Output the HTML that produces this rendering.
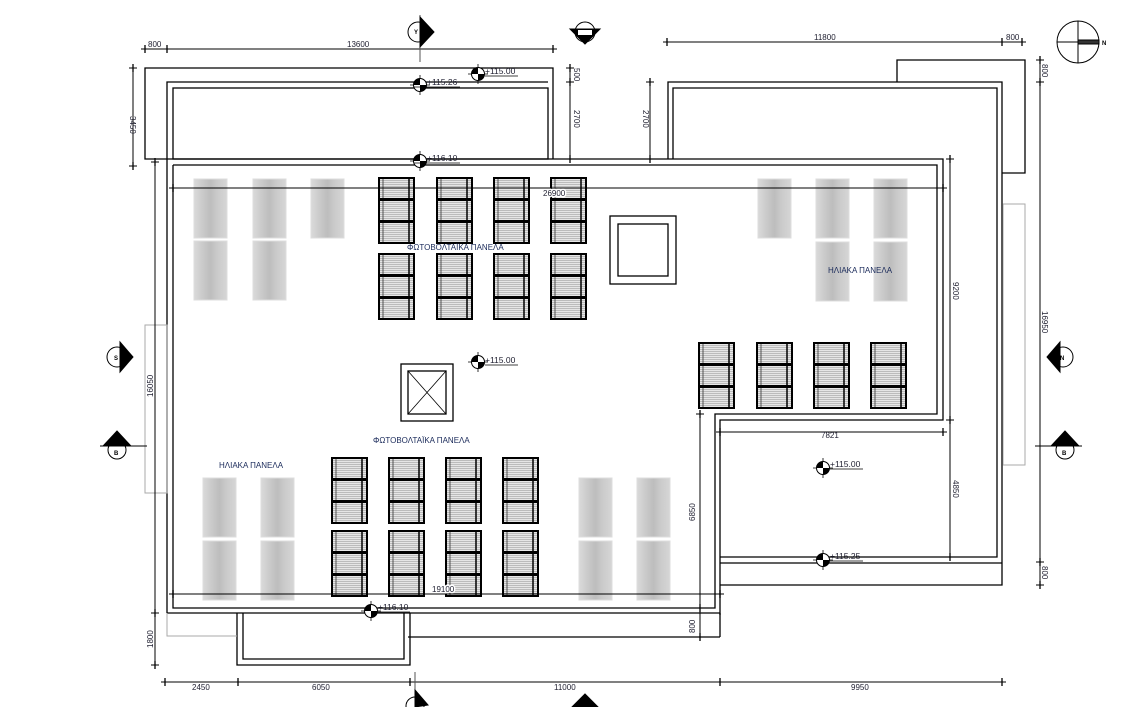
<!DOCTYPE html>
<html><head><meta charset="utf-8"><style>
html,body{margin:0;padding:0;background:#fff;}
svg{display:block;}
text{font-family:"Liberation Sans",sans-serif;}
</style></head><body>
<svg width="1125" height="707" viewBox="0 0 1125 707" xmlns="http://www.w3.org/2000/svg">
<defs>
<linearGradient id="gp" x1="0" x2="1" y1="0" y2="0">
<stop offset="0" stop-color="#dadada"/><stop offset="0.3" stop-color="#c8c8c8"/><stop offset="0.5" stop-color="#bdbdbd"/><stop offset="0.7" stop-color="#cacaca"/><stop offset="1" stop-color="#d6d6d6"/>
</linearGradient>
<pattern id="hl" width="4" height="2" patternUnits="userSpaceOnUse"><rect width="4" height="2" fill="#e6e6e6"/><rect width="4" height="0.6" fill="#a0a0a0"/></pattern>
<g id="pv"><rect x="0" y="0" width="35" height="21" fill="url(#hl)" stroke="#000" stroke-width="2"/><line x1="30" y1="0" x2="30" y2="21" stroke="#000" stroke-width="1.5"/><line x1="4" y1="1" x2="4" y2="20" stroke="#333" stroke-width="0.8"/></g>
<g id="pv3"><use href="#pv"/><use href="#pv" y="22"/><use href="#pv" y="44"/></g>
<rect id="sp" x="0" y="0" width="33" height="59" fill="url(#gp)" stroke="#ddd" stroke-width="1"/>
<g id="lv"><line x1="-10" y1="0" x2="10" y2="0" stroke="#000" stroke-width="0.8"/><line x1="0" y1="-10" x2="0" y2="10" stroke="#000" stroke-width="0.8"/><circle r="6.5" fill="#fff" stroke="#000" stroke-width="1"/><path d="M0,0 L-6.5,0 A6.5,6.5 0 0 1 0,-6.5 Z" fill="#000"/><path d="M0,0 L6.5,0 A6.5,6.5 0 0 1 0,6.5 Z" fill="#000"/></g>
<g id="tk"><line x1="-4" y1="0" x2="4" y2="0" stroke="#000" stroke-width="1"/><line x1="0" y1="-4" x2="0" y2="4" stroke="#000" stroke-width="1.3"/></g>
</defs>

<g fill="none" stroke="#000" stroke-width="1.3">
<polyline points="167,159 145,159 145,68 553,68 553,159"/>
<polyline points="167,159 167,82 548,82"/>
<rect x="173" y="88" width="375" height="71"/>
<polyline points="167,159 943,159 943,420 720,420 720,615"/>
<polyline points="173,165 937,165 937,414 715,414 715,608 173,608 173,165"/>
<line x1="167" y1="159" x2="167" y2="613"/>
<line x1="167" y1="613" x2="720" y2="613"/>
<line x1="408" y1="637" x2="720" y2="637"/>
<line x1="720" y1="613" x2="720" y2="637"/>
<polyline points="237,613 237,665 410,665 410,613"/>
<polyline points="243,613 243,659 404,659 404,613"/>
<polyline points="668,159 668,82 1002,82 1002,585 720,585"/>
<polyline points="673,159 673,88 997,88 997,557 720,557"/>
<line x1="720" y1="563" x2="1002" y2="563"/>
<polyline points="897,82 897,60 1025,60 1025,173 1002,173"/>
<rect x="610" y="216" width="66" height="68"/>
<rect x="618" y="224" width="50" height="52"/>
<rect x="401" y="364" width="52" height="57"/>
<rect x="408" y="371" width="38" height="43"/>
<line x1="408" y1="371" x2="446" y2="414" stroke-width="0.8"/><line x1="446" y1="371" x2="408" y2="414" stroke-width="0.8"/>
</g>
<g fill="none" stroke="#aaa" stroke-width="1">
<polyline points="167,613 167,636 237,636"/>
<rect x="145" y="325" width="22" height="168"/>
<rect x="1003" y="204" width="22" height="261"/>
</g>

<use href="#sp" x="194" y="179"/><use href="#sp" x="253" y="179"/><use href="#sp" x="311" y="179"/>
<use href="#sp" x="194" y="241"/><use href="#sp" x="253" y="241"/>
<use href="#sp" x="758" y="179"/><use href="#sp" x="816" y="179"/><use href="#sp" x="874" y="179"/>
<use href="#sp" x="816" y="242"/><use href="#sp" x="874" y="242"/>
<use href="#sp" x="203" y="478"/><use href="#sp" x="261" y="478"/><use href="#sp" x="203" y="541"/><use href="#sp" x="261" y="541"/>
<use href="#sp" x="579" y="478"/><use href="#sp" x="637" y="478"/><use href="#sp" x="579" y="541"/><use href="#sp" x="637" y="541"/>

<use href="#pv3" x="379" y="178"/><use href="#pv3" x="437" y="178"/><use href="#pv3" x="494" y="178"/><use href="#pv3" x="551" y="178"/>
<use href="#pv3" x="379" y="254"/><use href="#pv3" x="437" y="254"/><use href="#pv3" x="494" y="254"/><use href="#pv3" x="551" y="254"/>
<use href="#pv3" x="699" y="343"/><use href="#pv3" x="757" y="343"/><use href="#pv3" x="814" y="343"/><use href="#pv3" x="871" y="343"/>
<use href="#pv3" x="332" y="458"/><use href="#pv3" x="389" y="458"/><use href="#pv3" x="446" y="458"/><use href="#pv3" x="503" y="458"/>
<use href="#pv3" x="332" y="531"/><use href="#pv3" x="389" y="531"/><use href="#pv3" x="446" y="531"/><use href="#pv3" x="503" y="531"/>

<g stroke="#000" stroke-width="1" fill="none">
<line x1="145" y1="49" x2="553" y2="49"/>
<line x1="667" y1="42" x2="1022" y2="42"/>
<line x1="133" y1="64" x2="133" y2="166"/>
<line x1="570" y1="64" x2="570" y2="159"/>
<line x1="650" y1="82" x2="650" y2="159"/>
<line x1="1040" y1="58" x2="1040" y2="585"/>
<line x1="950" y1="159" x2="950" y2="557"/>
<line x1="155" y1="158" x2="155" y2="665"/>
<line x1="700" y1="414" x2="700" y2="637"/>
<line x1="173" y1="188" x2="943" y2="188"/>
<line x1="173" y1="594" x2="720" y2="594"/>
<line x1="720" y1="432" x2="943" y2="432"/>
<line x1="165" y1="682" x2="1002" y2="682"/>
<line x1="420" y1="15" x2="420" y2="62" stroke="#555"/>
<line x1="415" y1="672" x2="415" y2="700" stroke="#555"/>
</g>
<g>
<use href="#tk" x="145" y="49"/><use href="#tk" x="167" y="49"/><use href="#tk" x="553" y="49"/>
<use href="#tk" x="667" y="42"/><use href="#tk" x="1002" y="42"/><use href="#tk" x="1022" y="42"/>
<use href="#tk" x="133" y="68"/><use href="#tk" x="133" y="166"/>
<use href="#tk" x="570" y="68"/><use href="#tk" x="570" y="82"/><use href="#tk" x="570" y="159"/>
<use href="#tk" x="650" y="82"/><use href="#tk" x="650" y="159"/>
<use href="#tk" x="1040" y="60"/><use href="#tk" x="1040" y="82"/><use href="#tk" x="1040" y="562"/><use href="#tk" x="1040" y="585"/>
<use href="#tk" x="950" y="159"/><use href="#tk" x="950" y="420"/><use href="#tk" x="950" y="557"/>
<use href="#tk" x="155" y="162"/><use href="#tk" x="155" y="613"/><use href="#tk" x="155" y="665"/>
<use href="#tk" x="700" y="414"/><use href="#tk" x="700" y="608"/><use href="#tk" x="700" y="637"/>
<use href="#tk" x="173" y="188"/><use href="#tk" x="943" y="188"/>
<use href="#tk" x="173" y="594"/><use href="#tk" x="720" y="594"/>
<use href="#tk" x="720" y="432"/><use href="#tk" x="943" y="432"/>
<use href="#tk" x="165" y="682"/><use href="#tk" x="238" y="682"/><use href="#tk" x="410" y="682"/><use href="#tk" x="720" y="682"/><use href="#tk" x="1002" y="682"/>
</g>
<g font-size="8" fill="#223">
<text x="148" y="47">800</text><text x="347" y="47">13600</text>
<text x="814" y="40">11800</text><text x="1006" y="40">800</text>
<text x="543" y="196" fill="#fff" stroke="#fff" stroke-width="3">26900</text><text x="543" y="196">26900</text>
<text x="432" y="592" fill="#fff" stroke="#fff" stroke-width="3">19100</text><text x="432" y="592">19100</text>
<text x="821" y="438">7821</text>
<text x="192" y="690">2450</text><text x="312" y="690">6050</text><text x="554" y="690">11000</text><text x="851" y="690">9950</text>
<text transform="translate(130,116) rotate(90)">3450</text>
<text transform="translate(574,68) rotate(90)">500</text>
<text transform="translate(574,110) rotate(90)">2700</text>
<text transform="translate(643,110) rotate(90)">2700</text>
<text transform="translate(1042,64) rotate(90)">800</text>
<text transform="translate(1042,311) rotate(90)">16950</text>
<text transform="translate(1042,566) rotate(90)">800</text>
<text transform="translate(953,282) rotate(90)">9200</text>
<text transform="translate(953,480) rotate(90)">4850</text>
<text transform="translate(153,397) rotate(-90)">16050</text>
<text transform="translate(153,648) rotate(-90)">1800</text>
<text transform="translate(695,521) rotate(-90)">6850</text>
<text transform="translate(695,633) rotate(-90)">800</text>
</g>

<g font-size="8.5" fill="#223">
<use href="#lv" x="420" y="85"/><text x="427" y="85">+115.26</text><line x1="414" y1="87" x2="460" y2="87" stroke="#000" stroke-width="0.7"/>
<use href="#lv" x="478" y="74"/><text x="485" y="74">+115.00</text><line x1="485" y1="76" x2="518" y2="76" stroke="#000" stroke-width="0.7"/>
<use href="#lv" x="420" y="161"/><text x="427" y="161">+116.10</text><line x1="414" y1="163" x2="460" y2="163" stroke="#000" stroke-width="0.7"/>
<use href="#lv" x="478" y="362"/><text x="485" y="363">+115.00</text><line x1="485" y1="365" x2="518" y2="365" stroke="#000" stroke-width="0.7"/>
<use href="#lv" x="823" y="468"/><text x="830" y="467">+115.00</text><line x1="830" y1="469" x2="863" y2="469" stroke="#000" stroke-width="0.7"/>
<use href="#lv" x="823" y="560"/><text x="830" y="559">+115.25</text><line x1="830" y1="561" x2="863" y2="561" stroke="#000" stroke-width="0.7"/>
<use href="#lv" x="371" y="611"/><text x="378" y="610">+116.10</text><line x1="378" y1="612" x2="410" y2="612" stroke="#000" stroke-width="0.7"/>
</g>

<g font-size="8" fill="#1a2a5a">
<text x="407" y="250">ΦΩΤΟΒΟΛΤΑΪΚΑ ΠΑΝΕΛΑ</text>
<text x="828" y="273">ΗΛΙΑΚΑ ΠΑΝΕΛΑ</text>
<text x="373" y="443">ΦΩΤΟΒΟΛΤΑΪΚΑ ΠΑΝΕΛΑ</text>
<text x="219" y="468">ΗΛΙΑΚΑ ΠΑΝΕΛΑ</text>
</g>

<g stroke="#000" stroke-width="1" fill="#fff">
<circle cx="418" cy="32" r="10"/><path d="M420,17 L434,32 L420,47 Z" fill="#000"/>
<circle cx="585" cy="32" r="10"/><path d="M570,29 L600,29 L585,44 Z" fill="#000"/><rect x="578" y="30" width="14" height="5" fill="#fff" stroke="none"/>
<circle cx="117" cy="357" r="10"/><path d="M120,342 L133,357 L120,372 Z" fill="#000"/>
<circle cx="117" cy="450" r="9"/><path d="M104,445 L117,431 L130,445 Z" fill="#000"/>
<line x1="100" y1="446" x2="147" y2="446"/>
<circle cx="1063" cy="357" r="10"/><path d="M1060,342 L1047,357 L1060,372 Z" fill="#000"/>
<circle cx="1065" cy="450" r="9"/><path d="M1052,445 L1065,431 L1078,445 Z" fill="#000"/>
<line x1="1035" y1="446" x2="1082" y2="446"/>
<circle cx="415" cy="706" r="9"/><path d="M415,690 L428,705 L415,707 Z" fill="#000"/>
<path d="M572,707 L585,694 L598,707 Z" fill="#000"/>
<circle cx="1078" cy="42" r="21"/>
<line x1="1057" y1="42" x2="1099" y2="42"/><line x1="1078" y1="21" x2="1078" y2="63"/>
<rect x="1078" y="40" width="21" height="4" fill="#333"/>
</g>
<g font-size="6" font-weight="bold" fill="#000">
<text x="414" y="34">Y</text><text x="582" y="40">E</text><text x="114" y="360">S</text><text x="114" y="455">B</text><text x="1060" y="360">N</text><text x="1062" y="455">B</text><text x="1102" y="45">N</text>
</g>
</svg>
</body></html>
